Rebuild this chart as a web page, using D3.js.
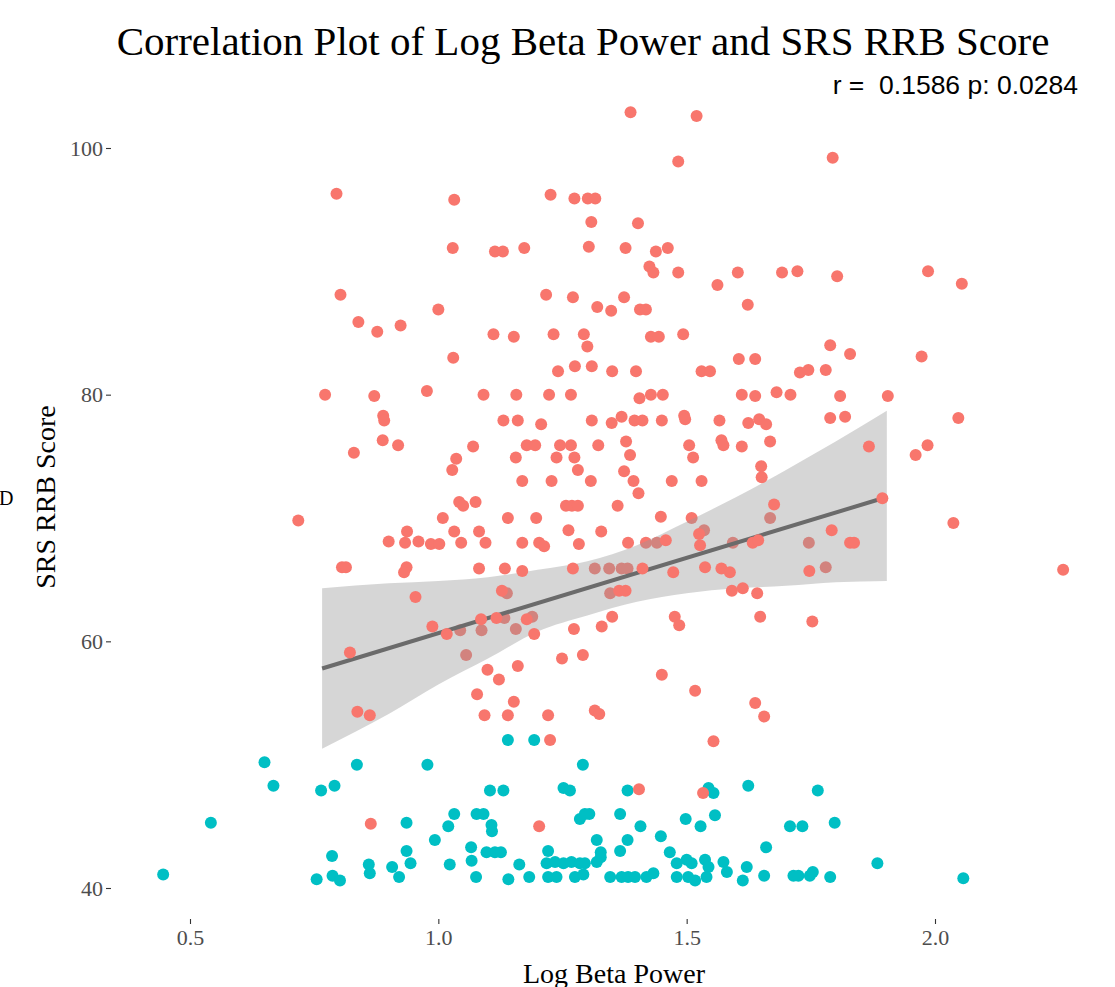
<!DOCTYPE html>
<html><head><meta charset="utf-8">
<script src="https://cdn.jsdelivr.net/npm/d3@7"></script>
<style>body{margin:0;background:#fff;} svg{display:block;}</style>
</head><body>
<svg id="chart" width="1115" height="987"></svg>
<script>
const titleText = "Correlation Plot of Log Beta Power and SRS RRB Score";
const subtitleText = "r =  0.1586 p: 0.0284";
const xLabel = "Log Beta Power";
const yLabel = "SRS RRB Score";
const xTicks = [0.5, 1.0, 1.5, 2.0];
const yTicks = [40, 60, 80, 100];

// SRS RRB score group above cutoff (drawn above the confidence band)
const redPoints = [
[0.795,96.3],[1.032,95.8],[1.029,91.9],[0.803,88.1],[1.000,86.9],[0.839,85.9],[0.877,85.1],[0.924,85.6],[1.030,83.0],
[1.387,102.9],[1.520,102.6],[1.483,98.9],[1.226,96.2],[1.274,95.9],[1.301,95.9],[1.316,95.9],[1.308,94.0],[1.402,93.9],
[1.114,91.6],[1.130,91.6],[1.173,91.9],[1.303,92.0],[1.377,91.9],[1.438,91.6],[1.462,91.9],[1.425,90.4],[1.433,89.9],[1.483,89.9],[1.562,88.9],[1.603,89.9],
[1.217,88.1],[1.271,87.9],[1.320,87.1],[1.348,86.8],[1.374,87.9],[1.406,86.9],[1.418,86.9],[1.623,87.3],
[1.111,84.9],[1.152,84.7],[1.232,84.9],[1.293,84.9],[1.300,83.9],[1.428,84.7],[1.444,84.7],[1.493,84.9],[1.605,82.9],[1.638,82.9],
[1.794,99.2],[1.692,89.9],[1.723,90.0],[1.803,89.6],[1.986,90.0],[2.054,89.0],[1.789,84.0],[1.829,83.3],[1.973,83.1],
[0.772,80.0],[0.871,79.9],[0.977,80.3],[0.889,78.3],[0.891,77.9],[0.888,76.3],[0.919,75.9],[0.830,75.3],[1.036,74.8],[1.028,73.9],
[1.042,71.3],[1.050,71.0],[1.009,70.0],[0.718,69.8],[0.937,68.9],[1.032,68.9],[0.900,68.1],[0.933,68.0],[0.960,68.1],[0.985,67.9],[1.002,67.9],
[0.806,66.0],[0.814,66.0],[0.936,66.0],[0.931,65.6],[0.954,63.6],[0.988,61.2],[1.017,60.6],
[1.241,81.9],[1.275,82.3],[1.309,82.3],[1.350,81.9],[1.398,81.9],[1.530,81.9],[1.547,81.9],
[1.091,80.0],[1.157,80.0],[1.223,80.0],[1.267,80.0],[1.405,79.7],[1.428,80.0],[1.452,80.0],[1.611,80.0],[1.638,79.9],
[1.131,77.9],[1.160,77.9],[1.207,77.6],[1.309,77.9],[1.349,77.7],[1.369,78.2],[1.395,77.9],[1.411,77.9],[1.450,77.9],[1.495,78.3],[1.497,78.0],[1.566,77.9],
[1.070,75.8],[1.178,75.9],[1.195,75.9],[1.245,75.9],[1.267,75.9],[1.322,75.9],[1.378,76.2],[1.505,75.9],[1.570,76.3],[1.574,75.9],
[1.156,74.9],[1.238,74.9],[1.274,74.9],[1.386,75.1],[1.513,74.9],
[1.281,73.9],[1.374,73.8],[1.169,73.0],[1.228,73.0],[1.307,73.0],[1.393,73.0],[1.470,73.0],[1.530,73.0],[1.403,72.0],
[1.075,71.3],[1.257,71.0],[1.269,71.0],[1.281,71.0],[1.361,71.0],
[1.140,70.0],[1.197,70.0],[1.448,70.1],
[1.082,68.9],[1.262,69.0],[1.328,68.9],
[1.525,68.7],[1.046,68.0],[1.095,68.0],[1.169,68.0],[1.203,68.0],[1.213,67.7],[1.283,67.9],[1.382,68.0],
[1.458,68.2],[1.527,67.8],
[1.082,65.9],[1.134,65.9],[1.169,65.7],[1.271,65.9],
[1.411,65.9],[1.473,65.6],[1.537,66.0],[1.570,65.9],[1.587,65.6],[1.128,64.1],
[1.364,64.1],[1.377,64.1],[1.591,64.1],[1.086,61.8],[1.117,61.9],
[1.178,61.8],
[1.350,62.0],[1.476,62.0],[1.485,61.3],
[1.193,60.6],[1.273,61.0],[1.329,61.2],
[1.728,81.8],[1.745,82.0],[1.780,82.0],[1.681,80.2],[1.709,80.0],[1.809,79.9],[1.905,79.9],[1.624,77.7],[1.646,78.0],[1.660,77.6],[1.789,78.1],
[1.819,78.2],[2.047,78.1],[1.611,75.8],[1.668,76.2],[1.867,75.8],[1.985,75.9],[1.961,75.1],[1.650,74.2],[1.651,73.3],[1.894,71.6],[1.676,71.1],
[2.037,69.6],[1.633,68.0],[1.644,68.2],[1.792,69.0],
[1.829,68.0],[1.837,68.0],[1.747,65.7],
[2.258,65.8],[1.613,64.3],[1.642,63.9],[1.648,62.0],[1.753,61.6],[0.822,59.1],[0.837,54.3],[0.862,54.0],[0.864,45.2],
[1.099,57.7],[1.122,56.9],[1.160,58.0],[1.249,58.6],[1.291,58.9],[1.450,57.3],[1.517,56.0],[1.638,55.0],[1.078,55.7],[1.152,55.1],
[1.093,54.0],[1.140,54.0],[1.221,54.0],[1.315,54.4],[1.324,54.1],[1.225,52.0],[1.554,51.9],[1.404,48.0],[1.533,47.7],[1.203,45.0],[1.656,53.9]
];

// same group, points that sit underneath the confidence band
const redShadedPoints = [
[1.510,70.0],[1.535,69.0],[1.418,68.0],[1.440,68.0],[1.593,68.0],[1.315,65.9],[1.344,65.9],[1.369,65.9],[1.381,65.9],[1.138,63.9],
[1.346,63.9],[1.133,61.9],[1.189,62.0],[1.044,60.9],[1.087,60.9],[1.156,61.0],[1.668,70.0],[1.746,68.0],[1.780,66.0],[1.056,58.9]
];

const cyanPoints = [
[0.650,50.2],[0.668,48.3],[0.764,47.9],[0.791,48.3],[0.836,50.0],[0.978,50.0],[0.542,45.3],[0.936,45.3],[1.020,45.0],[0.993,43.9],
[0.786,42.6],[0.936,43.0],[0.860,41.9],[0.862,41.2],[0.907,41.7],[0.944,42.0],[0.446,41.1],[0.755,40.7],[0.787,41.0],[0.802,40.6],[0.921,40.9],
[1.140,52.0],[1.193,52.0],[1.291,50.0],[1.104,47.9],[1.131,47.9],[1.252,48.1],[1.265,47.9],[1.381,47.9],[1.544,48.1],[1.554,47.7],[1.624,48.3],
[1.032,46.0],[1.077,46.0],[1.091,46.0],[1.107,45.1],[1.108,44.6],[1.285,45.6],[1.295,46.0],[1.304,46.0],[1.366,46.0],[1.407,45.0],[1.498,45.6],
[1.528,45.0],[1.557,45.9],[1.319,43.9],[1.381,43.9],[1.448,44.2],[1.066,43.3],[1.023,41.9],[1.067,42.2],[1.097,42.9],[1.114,42.9],[1.126,42.9],
[1.163,41.9],[1.221,43.0],[1.327,42.9],[1.327,42.5],[1.366,43.0],[1.466,42.9],[1.218,42.0],[1.235,42.1],[1.252,42.0],[1.268,42.1],[1.285,42.0],
[1.295,42.0],[1.319,42.1],[1.480,42.0],[1.500,42.3],[1.510,42.0],[1.537,42.3],[1.544,41.7],[1.574,42.1],[1.581,41.3],[1.621,41.7],
[1.076,40.9],[1.141,40.7],[1.183,40.9],[1.221,40.9],[1.238,40.9],[1.275,40.9],[1.292,41.1],[1.346,40.9],[1.369,40.9],[1.382,40.9],[1.396,40.9],
[1.419,40.9],[1.433,41.2],[1.480,40.9],[1.503,40.9],[1.517,40.6],[1.540,40.9],[1.613,40.6],
[1.764,47.9],[1.708,45.0],[1.733,45.0],[1.798,45.3],[1.660,43.3],[1.656,41.0],[1.715,41.0],[1.725,41.0],[1.748,41.0],[1.754,41.3],[1.789,40.9],
[1.884,42.0],[2.057,40.8]
];

// linear fit and its confidence band
const fitX = [0.766, 1.903];
const fitY = [57.8, 71.7];
const bandX = [0.766, 0.9, 1.0, 1.1, 1.2, 1.3, 1.4, 1.5, 1.6, 1.7, 1.8, 1.903];
const bandUpper = [64.3, 64.7, 64.9, 65.2, 65.8, 66.5, 67.8, 69.7, 71.7, 73.9, 76.2, 78.7];
const bandLower = [51.3, 54.1, 56.5, 58.6, 60.8, 62.1, 63.2, 63.9, 64.3, 64.5, 64.8, 64.9];

const W = 1115, H = 987;
const svg = d3.select('#chart');
svg.append('rect').attr('width', W).attr('height', H).attr('fill', '#fff');

const x = d3.scaleLinear().domain([0.5, 2.0]).range([190, 935]);
const y = d3.scaleLinear().domain([40, 100]).range([888, 148]);
const panelLeft = 111, panelBottom = 919;
const serif = "'Liberation Serif', 'Times New Roman', serif";
const sans = "'Liberation Sans', Arial, sans-serif";
const red = '#F8766D', cyan = '#00BFC4', R = 6;

const g = svg.append('g');

// shaded points (under the band)
g.append('g').selectAll('circle').data(redShadedPoints).join('circle')
  .attr('cx', d => x(d[0])).attr('cy', d => y(d[1])).attr('r', R).attr('fill', red);

// band
const bandData = bandX.map((v, i) => ({x: v, lo: bandLower[i], hi: bandUpper[i]}));
g.append('path').datum(bandData)
  .attr('d', d3.area().x(d => x(d.x)).y0(d => y(d.lo)).y1(d => y(d.hi)).curve(d3.curveMonotoneX))
  .attr('fill', '#999999').attr('fill-opacity', 0.4);

// fit line
g.append('path').datum(fitX.map((v, i) => [v, fitY[i]]))
  .attr('d', d3.line().x(d => x(d[0])).y(d => y(d[1])))
  .attr('stroke', '#6b6b6b').attr('stroke-width', 4).attr('fill', 'none');

// points
g.append('g').selectAll('circle').data(cyanPoints).join('circle')
  .attr('cx', d => x(d[0])).attr('cy', d => y(d[1])).attr('r', R).attr('fill', cyan);
g.append('g').selectAll('circle').data(redPoints).join('circle')
  .attr('cx', d => x(d[0])).attr('cy', d => y(d[1])).attr('r', R).attr('fill', red);

// axes
const yAxis = d3.axisLeft(y).tickValues(yTicks).tickSize(5).tickPadding(3).tickFormat(d3.format('d'));
const ya = svg.append('g').attr('transform', `translate(${panelLeft},0)`).call(yAxis);
const xAxis = d3.axisBottom(x).tickValues(xTicks).tickSize(5).tickPadding(5).tickFormat(d3.format('.1f'));
const xa = svg.append('g').attr('transform', `translate(0,${panelBottom})`).call(xAxis);
[ya, xa].forEach(a => {
  a.select('.domain').remove();
  a.selectAll('.tick line').attr('stroke', '#333333').attr('stroke-width', 1.1);
  a.selectAll('.tick text').attr('fill', '#4d4d4d').style('font-family', serif).style('font-size', '22px');
});

// titles
svg.append('text').attr('x', 583).attr('y', 55).attr('text-anchor', 'middle')
  .style('font-family', serif).style('font-size', '41px').attr('fill', '#000').text(titleText);
svg.append('text').attr('x', 1078).attr('y', 94).attr('text-anchor', 'end')
  .style('font-family', sans).style('font-size', '26.5px').style('white-space', 'pre').attr('fill', '#000').text(subtitleText);
svg.append('text').attr('transform', 'translate(55,497) rotate(-90)').attr('text-anchor', 'middle')
  .style('font-family', serif).style('font-size', '28px').attr('fill', '#000').text(yLabel);
svg.append('text').attr('x', 614).attr('y', 983).attr('text-anchor', 'middle')
  .style('font-family', serif).style('font-size', '28px').attr('fill', '#000').text(xLabel);
svg.append('text').attr('x', -1).attr('y', 505)
  .style('font-family', serif).style('font-size', '20px').attr('fill', '#000').text('D');
</script>
</body></html>
